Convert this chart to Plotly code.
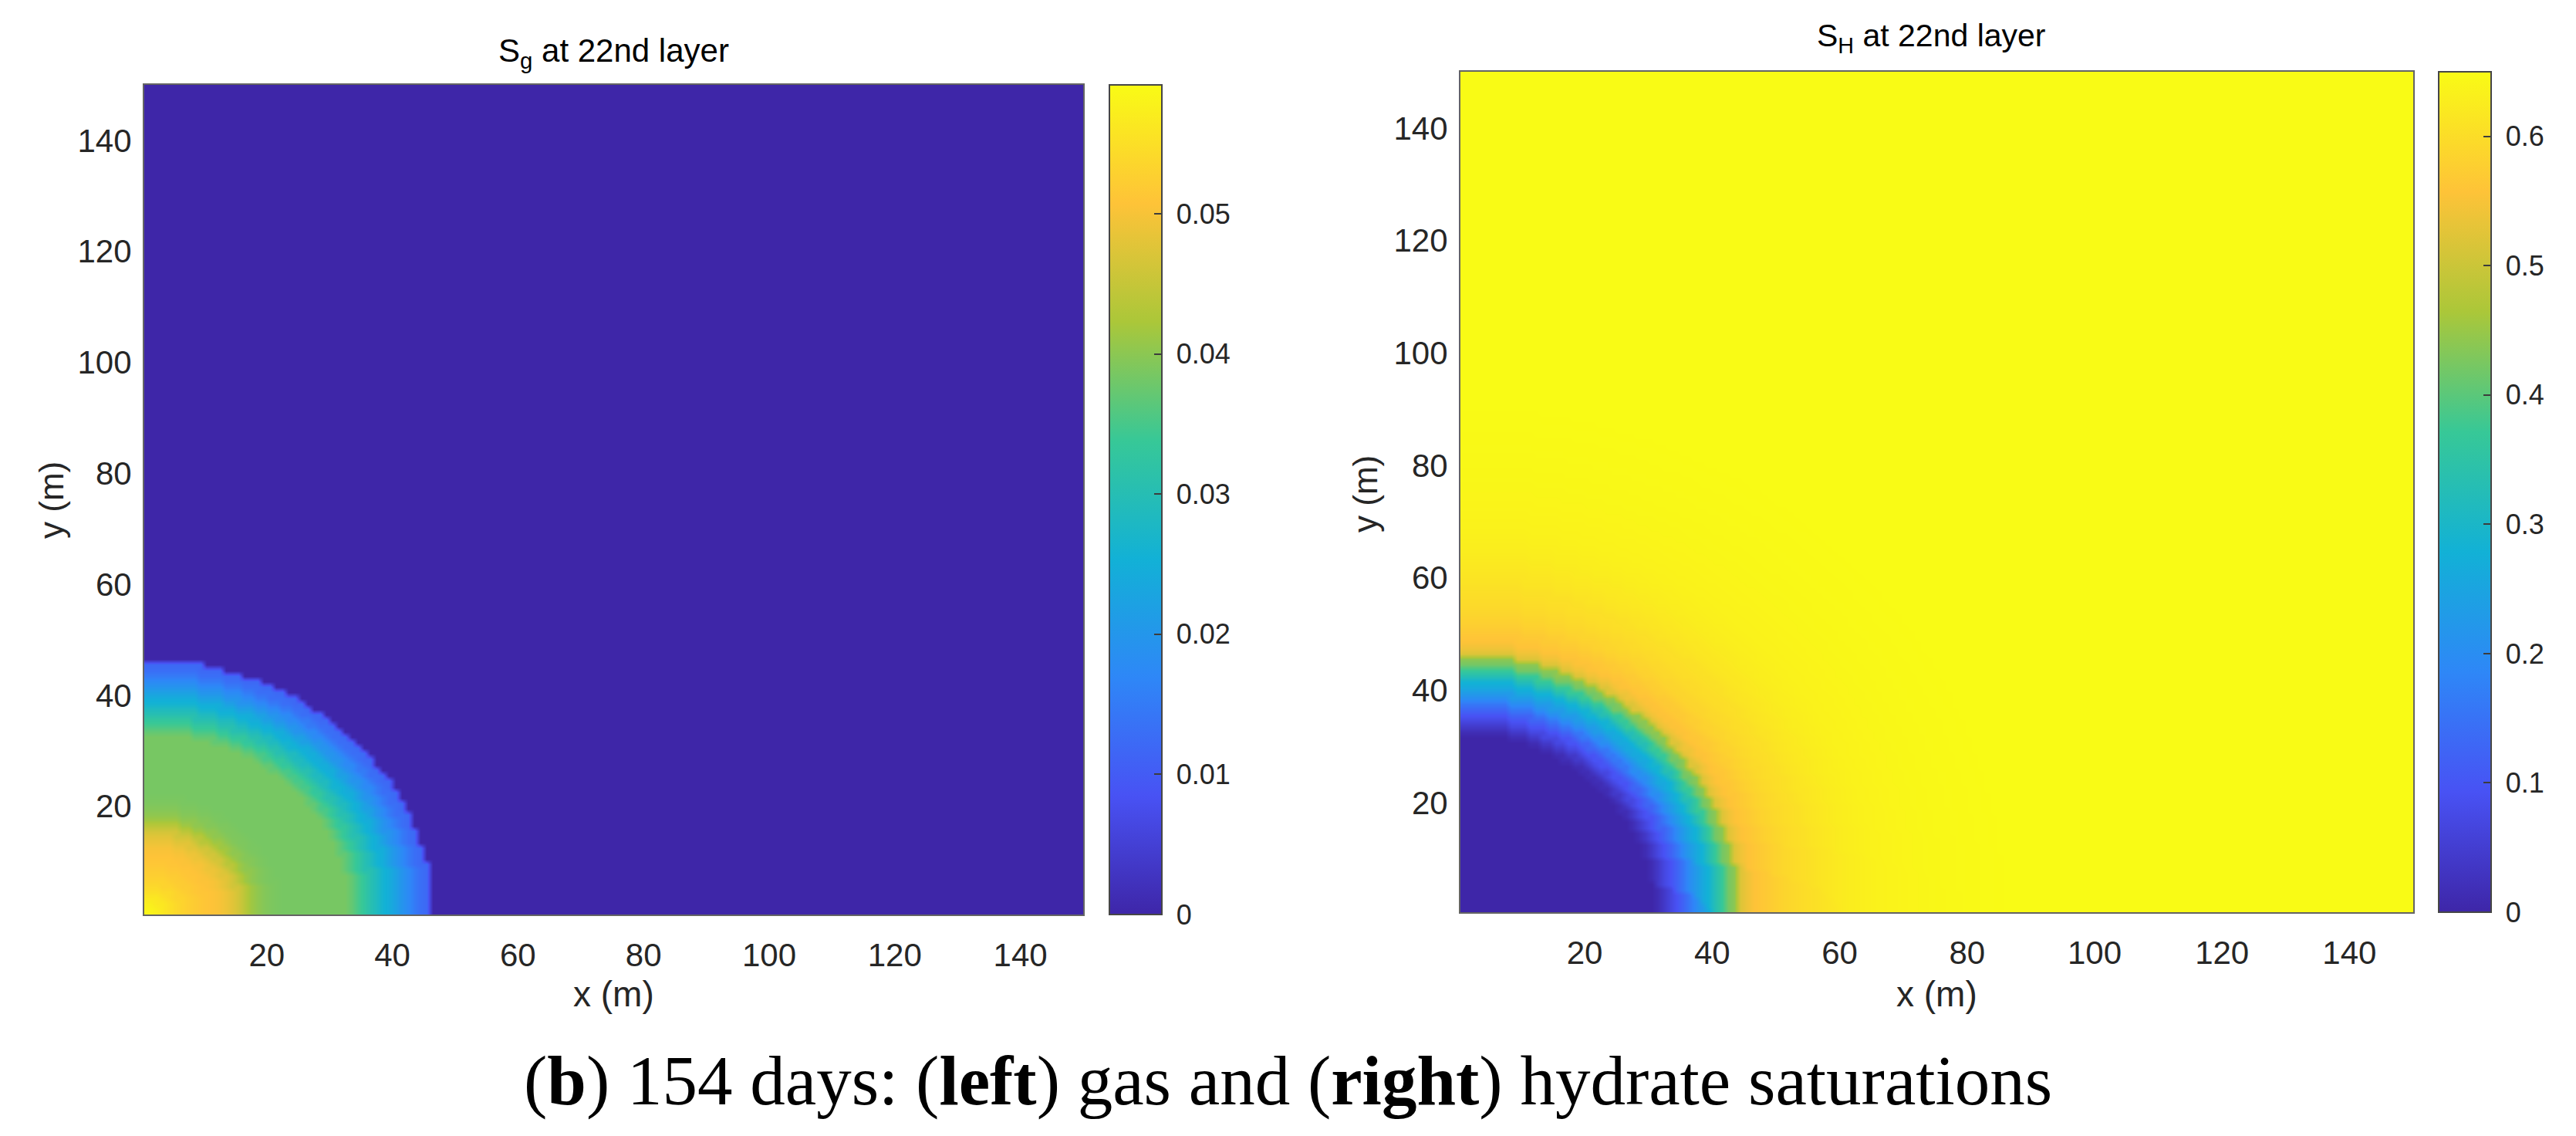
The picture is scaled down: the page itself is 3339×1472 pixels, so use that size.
import math
import plotly.graph_objects as go

W, H = 3339, 1472

# Cell centres of the simulation grid (1 m cells)
grid_x = [0.5 + i for i in range(151)]
grid_y = [0.5 + i for i in range(151)]

# Saturation, one value per 1 m ring around the well at the corner
sg_rings = [0.0592, 0.0587, 0.058, 0.0572, 0.0562, 0.055, 0.054, 0.0532, 0.0525, 0.052,
            0.0514, 0.051, 0.0505, 0.05, 0.049, 0.0478, 0.0462, 0.0438, 0.0415, 0.0403,
            0.0395, 0.039, 0.0387, 0.0385, 0.0385, 0.0385, 0.0385, 0.0385, 0.0385, 0.0385,
            0.0385, 0.0385, 0.0385, 0.0385, 0.037, 0.035, 0.033, 0.0305, 0.0285, 0.026,
            0.0245, 0.022, 0.0195, 0.0175, 0.015, 0.013, 0.012]
sg_outside = 0.0
sh_rings = [0, 0, 0, 0, 0, 0, 0, 0, 0, 0, 0, 0, 0, 0, 0, 0, 0, 0, 0, 0,
            0, 0, 0, 0, 0, 0, 0, 0, 0, 0, 0, 0, 0,
            0.015, 0.04, 0.07, 0.095, 0.125, 0.16, 0.20, 0.23, 0.26, 0.285, 0.33, 0.37, 0.42,
            0.44, 0.52, 0.54, 0.555, 0.562, 0.568, 0.575, 0.582, 0.587, 0.592, 0.596, 0.60,
            0.603, 0.606, 0.611, 0.614, 0.617, 0.62, 0.623, 0.626, 0.628, 0.63, 0.632, 0.634,
            0.635, 0.636, 0.637, 0.638, 0.639, 0.64, 0.641, 0.642, 0.643, 0.644, 0.644, 0.645,
            0.645, 0.646, 0.646, 0.647, 0.647, 0.648, 0.648, 0.649, 0.649]
sh_outside = 0.65
# The hydrate front sits slightly closer to the well along x than along y
sg_x_stretch = 1.0
sh_x_stretch = 1.05

axis_ticks = [20, 40, 60, 80, 100, 120, 140]
sg_cbar_ticks = [0, 0.01, 0.02, 0.03, 0.04, 0.05]
sg_cbar_text = ["0", "0.01", "0.02", "0.03", "0.04", "0.05"]
sh_cbar_ticks = [0, 0.1, 0.2, 0.3, 0.4, 0.5, 0.6]
sh_cbar_text = ["0", "0.1", "0.2", "0.3", "0.4", "0.5", "0.6"]
sg_max, sh_max = 0.0592, 0.65

parula = [[0 / 7, "rgb(62,38,168)"], [1 / 7, "rgb(72,82,244)"], [2 / 7, "rgb(46,135,247)"],
          [3 / 7, "rgb(18,177,214)"], [4 / 7, "rgb(55,200,151)"], [5 / 7, "rgb(171,199,57)"],
          [6 / 7, "rgb(254,195,56)"], [7 / 7, "rgb(249,251,21)"]]


def ring_lookup(rings, outside, stretch):
    out = []
    for y in grid_y:
        row = []
        for x in grid_x:
            k = int(round(math.hypot(x * stretch, y)))
            row.append(rings[k] if k < len(rings) else outside)
        out.append(row)
    return out


def fx(p):
    return p / W


def fy(p):
    return 1 - p / H


panels = [
    dict(z=ring_lookup(sg_rings, sg_outside, sg_x_stretch), box=(187, 1404, 110, 1185), cb=(1438, 1506),
         cmax=sg_max, tv=sg_cbar_ticks, tt=sg_cbar_text, ax=""),
    dict(z=ring_lookup(sh_rings, sh_outside, sh_x_stretch), box=(1893, 3128, 93, 1182), cb=(3161, 3229),
         cmax=sh_max, tv=sh_cbar_ticks, tt=sh_cbar_text, ax="2"),
]

fig = go.Figure()
line = "rgb(100,100,100)"
tick_font = dict(family="Liberation Sans", size=42, color="rgb(38,38,38)")
for p in panels:
    l, r, t, b = p["box"]
    c0, c1 = p["cb"]
    fig.add_trace(go.Heatmap(
        x=grid_x, y=grid_y, z=p["z"], zsmooth="best", zmin=0, zmax=p["cmax"], colorscale=parula,
        xaxis="x" + p["ax"], yaxis="y" + p["ax"], hoverinfo="skip",
        colorbar=dict(
            x=fx(c0), xanchor="left", xref="paper", y=fy(b), yanchor="bottom", yref="paper",
            len=(b - t) / H, lenmode="fraction", thickness=c1 - c0, thicknessmode="pixels",
            outlinecolor="rgb(70,70,70)", outlinewidth=2, xpad=0, ypad=0,
            tickmode="array", tickvals=p["tv"], ticktext=["\u00a0" + s for s in p["tt"]],
            ticks="inside", ticklen=11, tickwidth=2, tickcolor="rgb(60,60,60)",
            tickfont=dict(family="Liberation Sans", size=36, color="rgb(38,38,38)"),
        ),
    ))
    axis = dict(range=[0.5, 150], tickmode="array", tickvals=axis_ticks, ticks="", showgrid=False,
                zeroline=False, showline=True, mirror=True, linecolor=line, linewidth=2,
                tickfont=tick_font)
    fig.update_layout(**{
        "xaxis" + p["ax"]: dict(axis, domain=[fx(l), fx(r)], anchor="y" + p["ax"], ticklabelstandoff=15),
        "yaxis" + p["ax"]: dict(axis, domain=[fy(b), fy(t)], anchor="x" + p["ax"], ticklabelstandoff=6),
    })


def label(text, px, py, size=44, angle=0, family="Liberation Sans", color="rgb(38,38,38)"):
    fig.add_annotation(text=text, x=fx(px), y=fy(py), xref="paper", yref="paper", showarrow=False,
                       xanchor="center", yanchor="middle", textangle=angle,
                       font=dict(family=family, size=size, color=color))


label("S<sub>g</sub> at 22nd layer", 795, 68, size=42, color="black")
label("S<sub>H</sub> at 22nd layer", 2503, 49, size=41, color="black")
label("x (m)", 795, 1288, size=46)
label("x (m)", 2510, 1288, size=46)
label("y (m)", 66, 648, angle=-90)
label("y (m)", 1770, 640, angle=-90)
label("(<b>b</b>) 154 days: (<b>left</b>) gas and (<b>right</b>) hydrate saturations", 1670, 1400,
      size=91, family="Liberation Serif", color="black")

fig.update_layout(width=W, height=H, margin=dict(l=0, r=0, t=0, b=0), autosize=False,
                  paper_bgcolor="white", plot_bgcolor="white", showlegend=False)
fig.write_html("out.html", config={"displayModeBar": False},
               post_script="document.body.style.margin='0';")
